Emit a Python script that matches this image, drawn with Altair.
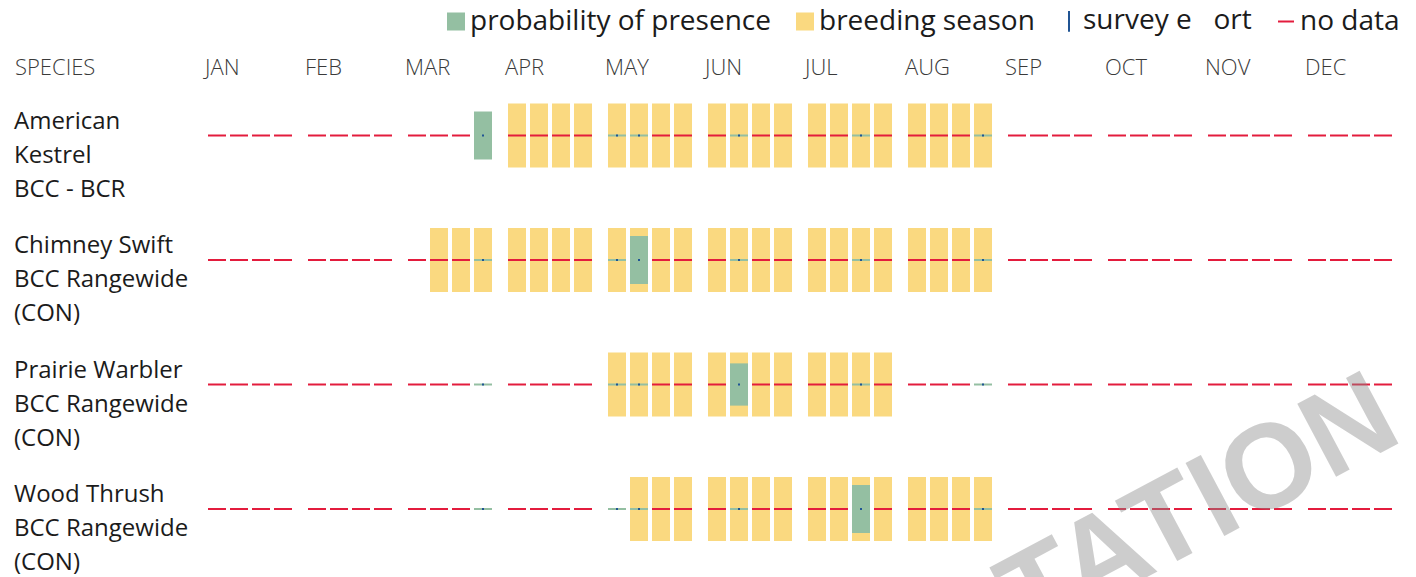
import altair as alt
import pandas as pd

N = None

months = ["JAN", "FEB", "MAR", "APR", "MAY", "JUN", "JUL", "AUG", "SEP", "OCT", "NOV", "DEC"]
weeks = ["1", "2", "3", "4"]
species = ["American Kestrel", "Chimney Swift", "Prairie Warbler", "Wood Thrush"]
species_labels = [
    "American\nKestrel\nBCC - BCR",
    "Chimney Swift\nBCC Rangewide\n(CON)",
    "Prairie Warbler\nBCC Rangewide\n(CON)",
    "Wood Thrush\nBCC Rangewide\n(CON)",
]
legend_items = ["probability of presence", "breeding season", "survey e\u00a0\u00a0\u00a0ort", "no data"]
legend_colors = ["#94bfa2", "#fad980", "#205493", "#e31c3d"]
legend_shapes = ["square", "square", "M0,-1.3L0,1.3", "stroke"]

# probability of presence per week (None = no data), 4 weeks per month JAN..DEC
kestrel_prob = [N, N, N, N,  N, N, N, N,  N, N, N, 0.75,  N, N, N, N,
                0, 0, N, N,  N, 0, N, N,  N, N, 0, N,  N, N, N, 0,
                N, N, N, N,  N, N, N, N,  N, N, N, N,  N, N, N, N]
swift_prob = [N, N, N, N,  N, N, N, N,  N, N, N, 0,  N, N, N, N,
              0, 0.75, N, N,  N, 0, N, N,  N, N, 0, N,  N, N, N, 0,
              N, N, N, N,  N, N, N, N,  N, N, N, N,  N, N, N, N]
warbler_prob = [N, N, N, N,  N, N, N, N,  N, N, N, 0,  N, N, N, N,
                0, 0, N, N,  N, 0.66, N, N,  N, N, 0, N,  N, N, N, 0,
                N, N, N, N,  N, N, N, N,  N, N, N, N,  N, N, N, N]
thrush_prob = [N, N, N, N,  N, N, N, N,  N, N, N, 0,  N, N, N, N,
               0, 0, N, N,  N, 0, N, N,  N, N, 0.75, N,  N, N, N, 0,
               N, N, N, N,  N, N, N, N,  N, N, N, N,  N, N, N, N]

# survey effort per week (None = no survey)
kestrel_survey = [N, N, N, N,  N, N, N, N,  N, N, N, 0.03,  N, N, N, N,
                  0.03, 0.03, N, N,  N, 0.03, N, N,  N, N, 0.03, N,  N, N, N, 0.03,
                  N, N, N, N,  N, N, N, N,  N, N, N, N,  N, N, N, N]
swift_survey = [N, N, N, N,  N, N, N, N,  N, N, N, 0.03,  N, N, N, N,
                0.03, 0.03, N, N,  N, 0.03, N, N,  N, N, 0.03, N,  N, N, N, 0.03,
                N, N, N, N,  N, N, N, N,  N, N, N, N,  N, N, N, N]
warbler_survey = [N, N, N, N,  N, N, N, N,  N, N, N, 0.03,  N, N, N, N,
                  0.03, 0.03, N, N,  N, 0.03, N, N,  N, N, 0.03, N,  N, N, N, 0.03,
                  N, N, N, N,  N, N, N, N,  N, N, N, N,  N, N, N, N]
thrush_survey = [N, N, N, N,  N, N, N, N,  N, N, N, 0.03,  N, N, N, N,
                 0.03, 0.03, N, N,  N, 0.03, N, N,  N, N, 0.03, N,  N, N, N, 0.03,
                 N, N, N, N,  N, N, N, N,  N, N, N, N,  N, N, N, N]

# breeding season weeks (1 = breeding)
kestrel_breed = [0, 0, 0, 0,  0, 0, 0, 0,  0, 0, 0, 0,  1, 1, 1, 1,
                 1, 1, 1, 1,  1, 1, 1, 1,  1, 1, 1, 1,  1, 1, 1, 1,
                 0, 0, 0, 0,  0, 0, 0, 0,  0, 0, 0, 0,  0, 0, 0, 0]
swift_breed = [0, 0, 0, 0,  0, 0, 0, 0,  0, 1, 1, 1,  1, 1, 1, 1,
               1, 1, 1, 1,  1, 1, 1, 1,  1, 1, 1, 1,  1, 1, 1, 1,
               0, 0, 0, 0,  0, 0, 0, 0,  0, 0, 0, 0,  0, 0, 0, 0]
warbler_breed = [0, 0, 0, 0,  0, 0, 0, 0,  0, 0, 0, 0,  0, 0, 0, 0,
                 1, 1, 1, 1,  1, 1, 1, 1,  1, 1, 1, 1,  0, 0, 0, 0,
                 0, 0, 0, 0,  0, 0, 0, 0,  0, 0, 0, 0,  0, 0, 0, 0]
thrush_breed = [0, 0, 0, 0,  0, 0, 0, 0,  0, 0, 0, 0,  0, 0, 0, 0,
                0, 1, 1, 1,  1, 1, 1, 1,  1, 1, 1, 1,  1, 1, 1, 1,
                0, 0, 0, 0,  0, 0, 0, 0,  0, 0, 0, 0,  0, 0, 0, 0]

probs = [kestrel_prob, swift_prob, warbler_prob, thrush_prob]
surveys = [kestrel_survey, swift_survey, warbler_survey, thrush_survey]
breeds = [kestrel_breed, swift_breed, warbler_breed, thrush_breed]

rows = []
for i, sp in enumerate(species):
    for k in range(len(months) * len(weeks)):
        rows.append(dict(species=sp, idx=i, month=months[k // 4], week=weeks[k % 4],
                         prob=probs[i][k], survey=surveys[i][k], breeding=breeds[i][k]))
df = pd.DataFrame(rows)

UNIT = 124.5   # pixels per species row
HALF = 32      # half height of a full bar, px

x_scale = alt.Scale(domain=months, range=[192, 1392], paddingInner=0.16, paddingOuter=0.08)
xo_scale = alt.Scale(domain=weeks, paddingInner=4 / 22, paddingOuter=0)
y_scale = alt.Scale(domain=[0, 3], range=[127.5, 501], nice=False, zero=False)

base = alt.Chart(df).encode(
    x=alt.X("month:N", scale=x_scale, axis=None),
    xOffset=alt.XOffset("week:N", scale=xo_scale),
)

breeding = base.transform_filter("datum.breeding == 1").transform_calculate(
    y0=f"datum.idx - {HALF}/{UNIT}", y1=f"datum.idx + {HALF}/{UNIT}"
).mark_rect(color="#fad980").encode(
    y=alt.Y("y0:Q", scale=y_scale, axis=None), y2="y1:Q"
)

presence = base.transform_filter("isValid(datum.prob)").transform_calculate(
    y0=f"datum.idx - max(datum.prob*{HALF}, 1)/{UNIT}",
    y1=f"datum.idx + max(datum.prob*{HALF}, 1)/{UNIT}",
).mark_rect(color="#94bfa2").encode(
    y=alt.Y("y0:Q", scale=y_scale, axis=None), y2="y1:Q"
)

nodata = base.transform_filter("!isValid(datum.prob)").transform_calculate(
    y0=f"datum.idx - 1/{UNIT}", y1=f"datum.idx + 1/{UNIT}"
).mark_rect(color="#e31c3d").encode(
    y=alt.Y("y0:Q", scale=y_scale, axis=None), y2="y1:Q"
)

survey = base.transform_filter("isValid(datum.survey)").transform_calculate(
    y0=f"datum.idx - max(datum.survey*{HALF}, 1)/{UNIT}",
    y1=f"datum.idx + max(datum.survey*{HALF}, 1)/{UNIT}",
).mark_rule(color="#205493", strokeWidth=2).encode(
    y=alt.Y("y0:Q", scale=y_scale, axis=None), y2="y1:Q"
)

sp_df = pd.DataFrame({"idx": list(range(len(species))), "label": species_labels})
sp_text = alt.Chart(sp_df).mark_text(
    align="left", baseline="middle", lineBreak="\n", lineHeight=34,
    fontSize=24, font="Open Sans", color="#1b1b1b", dy=-14
).encode(
    x=alt.value(6), y=alt.Y("idx:Q", scale=y_scale, axis=None), text="label:N"
)

m_df = pd.DataFrame({"month": months})
m_text = alt.Chart(m_df).mark_text(
    align="left", baseline="middle", fontSize=22, fontWeight=300,
    font="Open Sans", color="#3a3a3a", dx=-3
).encode(
    x=alt.X("month:N", scale=x_scale, axis=None, bandPosition=0),
    y=alt.value(60), text="month:N"
)

h_df = pd.DataFrame({"t": ["SPECIES"]})
h_text = alt.Chart(h_df).mark_text(
    align="left", baseline="middle", fontSize=22, fontWeight=300,
    font="Open Sans", color="#3a3a3a"
).encode(x=alt.value(7), y=alt.value(60), text="t:N")

leg = alt.Legend(
    title=None, orient="none", legendX=434, legendY=-1, direction="horizontal",
    labelFont="Open Sans", labelFontSize=28, labelColor="#1b1b1b", labelLimit=0,
    symbolSize=256, symbolStrokeWidth=2, columnPadding=20, labelOffset=0, padding=0,
)
l_df = pd.DataFrame({"kind": legend_items})
legend_layer = alt.Chart(l_df).mark_point(filled=True, strokeWidth=2, opacity=1).encode(
    x=alt.value(-200), y=alt.value(-200),
    fill=alt.Fill("kind:N", scale=alt.Scale(domain=legend_items, range=legend_colors), legend=leg),
    stroke=alt.Stroke("kind:N", scale=alt.Scale(domain=legend_items, range=legend_colors), legend=leg),
    shape=alt.Shape("kind:N", scale=alt.Scale(domain=legend_items, range=legend_shapes), legend=leg),
)

w_df = pd.DataFrame({"t": ["TATION"]})
watermark = alt.Chart(w_df).mark_text(
    align="left", baseline="alphabetic", angle=332, fontSize=120, fontWeight="bold",
    font="Liberation Sans", color="#8a8a8a", opacity=0.42
).encode(x=alt.value(1019), y=alt.value(633), text="t:N")

chart = alt.layer(
    breeding, presence, nodata, survey, sp_text, m_text, h_text, legend_layer, watermark
).properties(
    width=1400, height=569, padding=0, background="white",
    autosize=alt.AutoSizeParams(type="none"),
).configure_view(strokeWidth=0, stroke=None)

chart.save("out.html", embed_options={"renderer": "svg", "actions": False})
